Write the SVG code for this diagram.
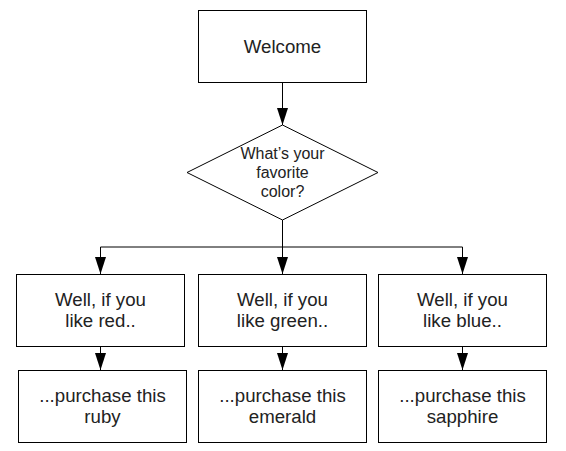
<svg xmlns="http://www.w3.org/2000/svg" width="566" height="451" viewBox="0 0 566 451">
<style>
.box{fill:#fff;stroke:#000;stroke-width:1}
.t{font-family:"Liberation Sans",Arial,sans-serif;font-size:18.67px;fill:#222;text-anchor:middle}
.s{font-size:16px}
.c{fill:none;stroke:#000;stroke-width:1}
</style>
<defs>
<marker id="ah" markerWidth="17" markerHeight="11" refX="10" refY="5" orient="auto" markerUnits="userSpaceOnUse" viewBox="0 0 10 10" preserveAspectRatio="none">
<path d="M0,0 L10,5 L0,10 Z" fill="#000"/>
</marker>
</defs>
<rect width="566" height="451" fill="#fff"/>
<g id="connectors">
<path class="c" d="M282.5,82 V125" marker-end="url(#ah)"/>
<path class="c" d="M282.5,220 V247"/>
<path class="c" d="M100.5,247 H462.5"/>
<path class="c" d="M100.5,247 V274" marker-end="url(#ah)"/>
<path class="c" d="M282.5,220 V274" marker-end="url(#ah)"/>
<path class="c" d="M462.5,247 V274" marker-end="url(#ah)"/>
<path class="c" d="M100.5,346 V370" marker-end="url(#ah)"/>
<path class="c" d="M282.5,346 V370" marker-end="url(#ah)"/>
<path class="c" d="M462.5,346 V370" marker-end="url(#ah)"/>
</g>
<g id="welcome">
<rect class="box" x="198.5" y="10.5" width="168" height="72"/>
<text class="t" x="282.5" y="52.5">Welcome</text>
</g>
<g id="question">
<polygon class="box" points="282.5,125 378,172.5 282.5,220 187,172.5"/>
<text class="t s" x="282.5" y="159">What’s your</text>
<text class="t s" x="282.5" y="178">favorite</text>
<text class="t s" x="282.5" y="197">color?</text>
</g>
<g id="red">
<rect class="box" x="16.5" y="274.5" width="168" height="72"/>
<text class="t" x="100.5" y="306">Well, if you</text>
<text class="t" x="100.5" y="327">like red..</text>
</g>
<g id="green">
<rect class="box" x="198.5" y="274.5" width="168" height="72"/>
<text class="t" x="282.5" y="306">Well, if you</text>
<text class="t" x="282.5" y="327">like green..</text>
</g>
<g id="blue">
<rect class="box" x="378.5" y="274.5" width="168" height="72"/>
<text class="t" x="462.5" y="306">Well, if you</text>
<text class="t" x="462.5" y="327">like blue..</text>
</g>
<g id="ruby">
<rect class="box" x="18.5" y="370.5" width="168" height="72"/>
<text class="t" x="102.5" y="402">...purchase this</text>
<text class="t" x="102.5" y="423">ruby</text>
</g>
<g id="emerald">
<rect class="box" x="198.5" y="370.5" width="168" height="72"/>
<text class="t" x="282.5" y="402">...purchase this</text>
<text class="t" x="282.5" y="423">emerald</text>
</g>
<g id="sapphire">
<rect class="box" x="378.5" y="370.5" width="168" height="72"/>
<text class="t" x="462.5" y="402">...purchase this</text>
<text class="t" x="462.5" y="423">sapphire</text>
</g>
</svg>
